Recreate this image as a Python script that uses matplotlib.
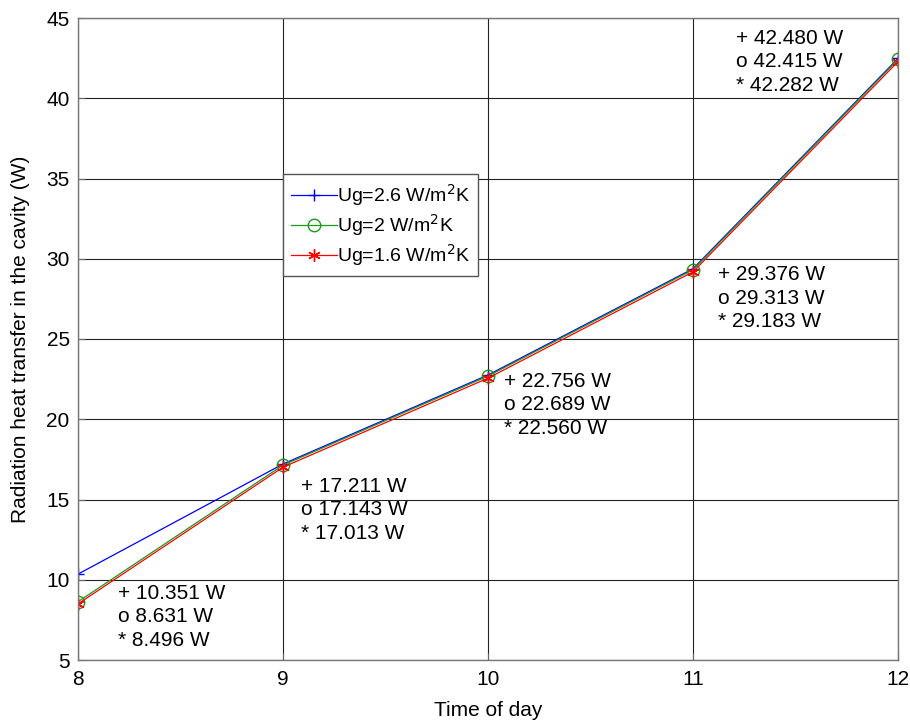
import matplotlib.pyplot as plt

plt.rcParams['font.family'] = ['Liberation Sans', 'DejaVu Sans']

hours = [8, 9, 10, 11, 12]
q_26 = [10.351, 17.211, 22.756, 29.376, 42.480]
q_20 = [8.631, 17.143, 22.689, 29.313, 42.415]
q_16 = [8.496, 17.013, 22.560, 29.183, 42.282]

fig = plt.figure(figsize=(9.1, 7.21), dpi=100)
ax = fig.add_axes([78 / 910, 61 / 721, 820 / 910, 642 / 721])

ax.plot(hours, q_26, color='blue', marker='+', markersize=9, lw=0.9,
        label='Ug=2.6 W/m$^2$K')
ax.plot(hours, q_20, color='#1a9a1a', marker='o', markersize=9, mfc='none', lw=0.9,
        label='Ug=2 W/m$^2$K')
ax.plot(hours, q_16, color='red', marker=(6, 2, 0), markersize=9, lw=0.9,
        label='Ug=1.6 W/m$^2$K')

# value labels next to each hour
label_pos = [(8.195, 7.68), (9.09, 14.35), (10.08, 20.89), (11.12, 27.55), (11.21, 42.26)]
for i, (x, y) in enumerate(label_pos):
    txt = f'+ {q_26[i]:.3f} W\no {q_20[i]:.3f} W\n* {q_16[i]:.3f} W'
    ax.text(x, y, txt, fontsize=15, va='center', ha='left', linespacing=1.3)

ax.set_xlim(8, 12)
ax.set_ylim(5, 45)
ax.set_xticks(hours)
ax.set_yticks(range(5, 46, 5))
ax.grid(True, color='#222222', lw=0.8)
ax.tick_params(direction='in', labelsize=15, color='#666666', length=5)
ax.tick_params(axis='x', pad=7)
ax.tick_params(axis='y', pad=6)
for s in ax.spines.values():
    s.set_color('#777777')
    s.set_linewidth(1.0)

ax.set_xlabel('Time of day', fontsize=15, labelpad=9)
ax.set_ylabel('Radiation heat transfer in the cavity (W)', fontsize=15, labelpad=12)

leg = ax.legend(loc='upper left', bbox_to_anchor=(0.25, 0.757), borderaxespad=0,
                fancybox=False, fontsize=14, handlelength=2.4, handletextpad=0.0,
                labelspacing=0.22, framealpha=1)
leg.get_frame().set_edgecolor('#555555')

fig.savefig('out.png', dpi=100)
